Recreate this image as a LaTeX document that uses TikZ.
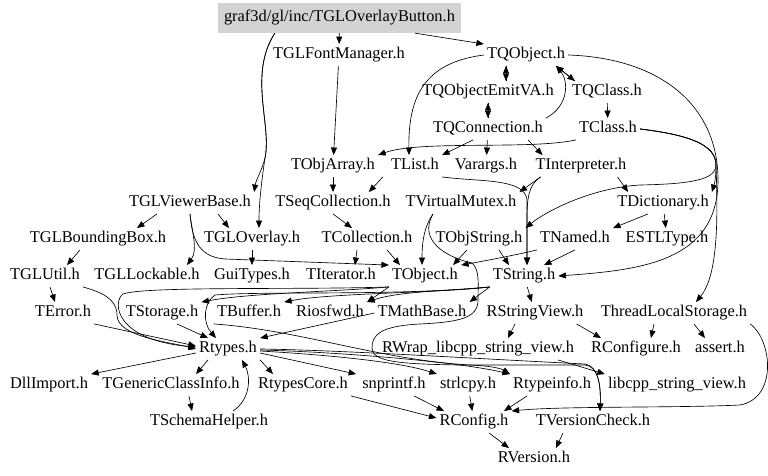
\documentclass[tikz,border=0pt]{standalone}
\usepackage{fontspec}
\setmainfont{Liberation Serif}
\usetikzlibrary{arrows.meta}
\definecolor{btngray}{RGB}{211,211,211}
\begin{document}
\begin{tikzpicture}[x=1pt,y=-1pt,
  lab/.style={font=\fontsize{16.4pt}{19pt}\selectfont, inner xsep=3pt, inner ysep=3.5pt, text height=11pt, text depth=3.5pt},
  ln/.style={draw=black, line width=0.65pt, -{Triangle[length=7.5pt,width=6pt]}},
]
\useasboundingbox (0,0) rectangle (768,476);
\node[lab, fill=btngray, minimum width=243pt, minimum height=30pt, inner sep=0pt] (btn) at (339.5,18) {graf3d/gl/inc/TGLOverlayButton.h};
% row 1
\node[lab] (TGLFontManager) at (339,55) {TGLFontManager.h};
\node[lab] (TQObject) at (526,55) {TQObject.h};
% row 2
\node[lab] (TQObjectEmitVA) at (488,92) {TQObjectEmitVA.h};
\node[lab] (TQClass) at (607,92) {TQClass.h};
% row 3
\node[lab] (TQConnection) at (488,129) {TQConnection.h};
\node[lab] (TClass) at (608,129) {TClass.h};
% row 4
\node[lab] (TObjArray) at (333,166) {TObjArray.h};
\node[lab] (TList) at (415,166) {TList.h};
\node[lab] (Varargs) at (486,166) {Varargs.h};
\node[lab] (TInterpreter) at (581,166) {TInterpreter.h};
% row 5
\node[lab] (TGLViewerBase) at (190,203) {TGLViewerBase.h};
\node[lab] (TSeqCollection) at (333,203) {TSeqCollection.h};
\node[lab] (TVirtualMutex) at (461,203) {TVirtualMutex.h};
\node[lab] (TDictionary) at (663,203) {TDictionary.h};
% row 6
\node[lab] (TGLBoundingBox) at (98,239) {TGLBoundingBox.h};
\node[lab] (TGLOverlay) at (252,239) {TGLOverlay.h};
\node[lab] (TCollection) at (367,239) {TCollection.h};
\node[lab] (TObjString) at (479,239) {TObjString.h};
\node[lab] (TNamed) at (575,239) {TNamed.h};
\node[lab] (ESTLType) at (667,239) {ESTLType.h};
% row 7
\node[lab] (TGLUtil) at (45,276) {TGLUtil.h};
\node[lab] (TGLLockable) at (147,276) {TGLLockable.h};
\node[lab] (GuiTypes) at (252,276) {GuiTypes.h};
\node[lab] (TIterator) at (341,276) {TIterator.h};
\node[lab] (TObject) at (425,276) {TObject.h};
\node[lab] (TString) at (524,276) {TString.h};
% row 8
\node[lab] (TError) at (63,313) {TError.h};
\node[lab] (TStorage) at (162,313) {TStorage.h};
\node[lab] (TBuffer) at (249,313) {TBuffer.h};
\node[lab] (Riosfwd) at (330,313) {Riosfwd.h};
\node[lab] (TMathBase) at (422,313) {TMathBase.h};
\node[lab] (RStringView) at (535,313) {RStringView.h};
\node[lab] (ThreadLocalStorage) at (674,313) {ThreadLocalStorage.h};
% row 9
\node[lab] (Rtypes) at (228,349) {Rtypes.h};
\node[lab] (RWrap) at (478,349) {RWrap\_libcpp\_string\_view.h};
\node[lab] (RConfigure) at (636,349) {RConfigure.h};
\node[lab] (assert) at (720,349) {assert.h};
% row 10
\node[lab] (DllImport) at (49,385) {DllImport.h};
\node[lab] (TGenericClassInfo) at (171,385) {TGenericClassInfo.h};
\node[lab] (RtypesCore) at (303,385) {RtypesCore.h};
\node[lab] (snprintf) at (394,385) {snprintf.h};
\node[lab] (strlcpy) at (468,385) {strlcpy.h};
\node[lab] (Rtypeinfo) at (552,385) {Rtypeinfo.h};
\node[lab] (libcpp) at (677,385) {libcpp\_string\_view.h};
% row 11
\node[lab] (TSchemaHelper) at (209,422) {TSchemaHelper.h};
\node[lab] (RConfig) at (474,422) {RConfig.h};
\node[lab] (TVersionCheck) at (593,422) {TVersionCheck.h};
% row 12
\node[lab] (RVersion) at (534,459) {RVersion.h};

% ---- edges ----
\draw[ln] (btn) -- (TGLFontManager);
\draw[ln] ([xshift=-46pt]btn.south east) -- (TQObject.north west);
\draw[ln] ([xshift=57pt]btn.south west) .. controls (248,75) and (272,125) .. (265,158) .. controls (262,170) and (256,180) .. (TGLViewerBase.north east);
\draw[ln] ([xshift=57pt]btn.south west) .. controls (248,75) and (272,125) .. (265,158) .. controls (261,185) and (259,205) .. ([xshift=7pt]TGLOverlay.north);
\draw[ln] (TGLFontManager) -- (TObjArray);
\draw[ln] (TQObject.west) .. controls (430,62) and (408,90) .. ([xshift=-6pt]TList.north);
\draw[ln] ([xshift=-20pt]TQObject.south) -- ([xshift=18pt]TQObjectEmitVA.north);
\draw[ln] ([xshift=18pt]TQObjectEmitVA.north) -- ([xshift=-20pt]TQObject.south);
\draw[ln] ([xshift=-12pt]TQObject.south east) -- ([xshift=6pt]TQClass.north west);
\draw[ln] ([xshift=6pt]TQClass.north west) -- ([xshift=-12pt]TQObject.south east);
\draw[ln] (TQConnection.north east) .. controls (570,105) and (568,80) .. ([xshift=30pt]TQObject.south);
\draw[ln] (TQObjectEmitVA) -- (TQConnection);
\draw[ln] (TQConnection) -- (TQObjectEmitVA);
\draw[ln] (TQClass) -- (TClass);
\draw[ln] (TClass.south west) .. controls (530,150) and (420,140) .. (TObjArray.north east);
\draw[ln] ([xshift=-15pt]TQConnection.south) -- (TList.north east);
\draw[ln] (TQConnection) -- (Varargs);
\draw[ln] ([xshift=-18pt]TQConnection.south east) -- ([xshift=10pt]TInterpreter.north west);
\draw[ln] (TQObject.east) .. controls (660,58) and (718,105) .. (718,180) .. controls (718,262) and (640,270) .. (TString.east);
\draw[ln] (TClass.east) .. controls (690,135) and (716,145) .. (716,165) .. controls (716,175) and (715,182) .. (TDictionary.north east);
\draw[ln] (TClass.east) .. controls (690,135) and (716,145) .. (716,165) .. controls (716,180) and (690,184) .. (640,185) .. controls (590,188) and (545,212) .. (TObjString.north east);
\draw[ln] (TClass.east) .. controls (690,135) and (716,145) .. (716,165) .. controls (718,220) and (718,275) .. ([xshift=22pt]ThreadLocalStorage.north);
\draw[ln] ([xshift=-12pt]TInterpreter.south east) -- ([xshift=14pt]TDictionary.north west);
\draw[ln] ([xshift=8pt]TInterpreter.south west) -- (TVirtualMutex.north east);
\draw[ln] ([xshift=8pt]TInterpreter.south west) .. controls (528,185) and (527,200) .. (527,220) -- ([xshift=3pt]TString.north);
\draw[ln] (TList.south east) .. controls (480,182) and (525,178) .. (527,200) -- ([xshift=3pt]TString.north);
\draw[ln] (TObjArray) -- (TSeqCollection);
\draw[ln] ([xshift=-5pt]TList.south west) -- ([xshift=-25pt]TSeqCollection.north east);
\draw[ln] (TSeqCollection.south) -- ([xshift=-15pt]TCollection.north);
\draw[ln] ([xshift=-33pt]TGLViewerBase.south) -- ([xshift=39pt]TGLBoundingBox.north);
\draw[ln] ([xshift=28pt]TGLViewerBase.south) -- ([xshift=-23pt]TGLOverlay.north);
\draw[ln] (TGLViewerBase.south) .. controls (192,232) and (198,250) .. ([xshift=40pt]TGLLockable.north);
\draw[ln] (TGLViewerBase.south) .. controls (192,235) and (196,257) .. (225,259) -- (TObject.north west);
\draw[ln] (TGLOverlay) -- (GuiTypes);
\draw[ln] ([xshift=-10pt]TCollection.south) -- ([xshift=14pt]TIterator.north);
\draw[ln] ([xshift=20pt]TCollection.south) -- ([xshift=-25pt]TObject.north);
\draw[ln] ([xshift=-18pt]TGLBoundingBox.south) -- ([xshift=22pt]TGLUtil.north);
\draw[ln] ([xshift=5pt]TGLUtil.south) -- ([xshift=-8pt]TError.north);
\draw[ln] (TGLUtil.south east) .. controls (100,292) and (117,298) .. (117,315) .. controls (117,337) and (170,342) .. (Rtypes.west);
\draw[ln] (TObject.south west) .. controls (300,290) and (145,286) .. (123,294) .. controls (112,302) and (115,340) .. ([yshift=2pt]Rtypes.west);
\draw[ln] (TObject.south west) .. controls (330,292) and (250,293) .. (TStorage.north east);
\draw[ln] (TObject.south west) -- (Riosfwd.north east);
\draw[ln] (TString.south west) .. controls (440,293) and (330,293) .. (TBuffer.north east);
\draw[ln] (TString.south west) .. controls (450,291) and (400,291) .. (Riosfwd.north east);
\draw[ln] (TString.south west) -- (TMathBase.north east);
\draw[ln] (TString) -- (RStringView);
\draw[ln] (TString.south west) .. controls (400,296) and (260,291) .. (215,295) .. controls (204,302) and (202,322) .. ([xshift=-12pt]Rtypes.north);
\draw[ln] (TBuffer.south west) .. controls (300,330) and (380,360) .. (470,365) .. controls (490,366) and (500,368) .. (Rtypeinfo.north west);
\draw[ln] ([xshift=-28pt]TVirtualMutex.south) .. controls (425,225) and (422,240) .. ([xshift=-3pt]TObject.north);
\draw[ln] ([xshift=-28pt]TVirtualMutex.south) .. controls (418,240) and (445,257) .. (472,263) .. controls (480,270) and (478,285) .. (478,300) .. controls (478,318) and (460,322) .. (420,324) .. controls (380,326) and (372,335) .. (372,348) .. controls (372,362) and (400,364) .. (460,365) -- (585,365) .. controls (598,366) and (601,385) .. ([xshift=7pt]TVersionCheck.north);
\draw[ln] ([xshift=-12pt]TObjString.south) -- ([xshift=-8pt]TObject.north east);
\draw[ln] ([xshift=20pt]TObjString.south) -- ([xshift=-15pt]TString.north);
\draw[ln] (TNamed.south west) .. controls (520,254) and (490,260) .. (TObject.north east);
\draw[ln] (TNamed.south) -- ([xshift=20pt]TString.north);
\draw[ln] ([xshift=-15pt]TDictionary.south) -- (TNamed.north east);
\draw[ln] (TDictionary) -- (ESTLType);
\draw[ln] ([xshift=18pt]TGenericClassInfo.south) -- ([xshift=-17pt]TSchemaHelper.north);
\draw[ln] ([xshift=24pt]TSchemaHelper.north) .. controls (252,398) and (250,375) .. ([xshift=14pt]Rtypes.south);
\draw[ln] ([yshift=-4pt]Rtypes.west) -- (DllImport.north east);
\draw[ln] ([xshift=-20pt]Rtypes.south) -- ([xshift=25pt]TGenericClassInfo.north);
\draw[ln] (Rtypes.south east) -- ([xshift=-30pt]RtypesCore.north);
\draw[ln] ([yshift=-4pt]Rtypes.east) -- ([xshift=-3pt]snprintf.north west);
\draw[ln] ([yshift=-2pt]Rtypes.east) .. controls (330,355) and (400,362) .. (strlcpy.north west);
\draw[ln] ([yshift=-1pt]Rtypes.east) .. controls (340,352) and (460,362) .. (Rtypeinfo.north west);
\draw[ln] (Rtypes.east) .. controls (340,350) and (500,360) .. (585,364) .. controls (598,366) and (601,385) .. ([xshift=7pt]TVersionCheck.north);
\draw[ln] (TMathBase.west) -- (Rtypes.north east);
\draw[ln] ([xshift=15pt]TStorage.south) -- ([xshift=-20pt]Rtypes.north);
\draw[ln] (TError.south east) -- ([yshift=3pt]Rtypes.west);
\draw[ln] ([xshift=-20pt]RStringView.south) -- ([xshift=30pt]RWrap.north);
\draw[ln] ([xshift=-10pt]RStringView.south east) -- ([xshift=-35pt]RConfigure.north);
\draw[ln] ([xshift=-20pt]ThreadLocalStorage.south) -- ([xshift=15pt]RConfigure.north);
\draw[ln] ([xshift=20pt]ThreadLocalStorage.south) -- ([xshift=-15pt]assert.north);
\draw[ln] (ThreadLocalStorage.south east) .. controls (772,340) and (778,398) .. (740,405) .. controls (680,408) and (560,406) .. (RConfig.north east);
\draw[ln] ([xshift=80pt]RWrap.south) -- (libcpp.north west);
\draw[ln] (RtypesCore.south east) -- ([yshift=4pt]RConfig.west);
\draw[ln] ([xshift=20pt]snprintf.south) -- ([xshift=-30pt]RConfig.north);
\draw[ln] (strlcpy) -- (RConfig);
\draw[ln] ([xshift=-25pt]Rtypeinfo.south) -- ([xshift=30pt]RConfig.north);
\draw[ln] ([xshift=15pt]RConfig.south) -- ([xshift=-25pt]RVersion.north);
\draw[ln] ([xshift=-30pt]TVersionCheck.south) -- ([xshift=22pt]RVersion.north);
\end{tikzpicture}
\end{document}
